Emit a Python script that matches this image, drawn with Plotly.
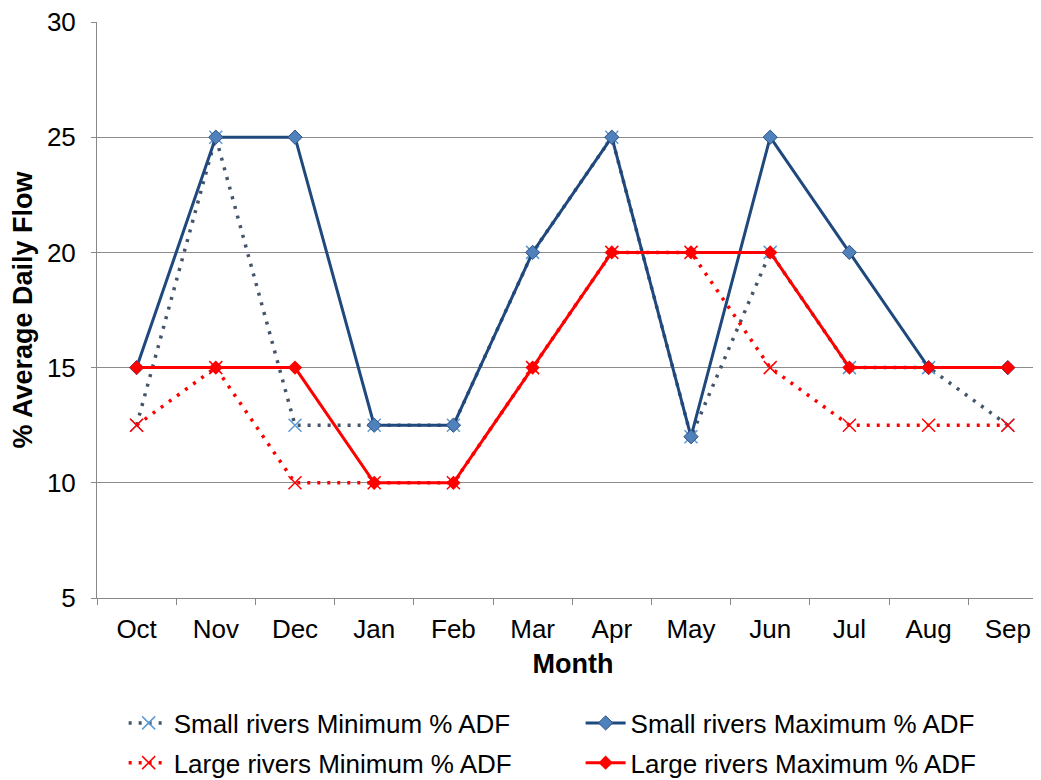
import plotly.graph_objects as go

months = ["Oct", "Nov", "Dec", "Jan", "Feb", "Mar", "Apr", "May", "Jun", "Jul", "Aug", "Sep"]
small_min = [12.5, 25, 12.5, 12.5, 12.5, 20, 25, 12, 20, 15, 15, 12.5]
small_max = [15, 25, 25, 12.5, 12.5, 20, 25, 12, 25, 20, 15, 15]
large_min = [12.5, 15, 10, 10, 10, 15, 20, 20, 15, 12.5, 12.5, 12.5]
large_max = [15, 15, 15, 10, 10, 15, 20, 20, 20, 15, 15, 15]
y_ticks = [5, 10, 15, 20, 25, 30]

FONT = "Liberation Sans, Arial, sans-serif"

fig = go.Figure()
fig.add_trace(go.Scatter(
    x=months, y=small_min, mode="lines+markers", name="Small rivers Minimum % ADF",
    line=dict(color="#44546A", width=3.5, dash="3px,7px"),
    marker=dict(symbol="x-thin", size=13, line=dict(color="#5B9BD5", width=1.5)),
    legend="legend", showlegend=True))
fig.add_trace(go.Scatter(
    x=months, y=small_max, mode="lines+markers", name="Small rivers Maximum % ADF",
    line=dict(color="#1F497D", width=3),
    marker=dict(symbol="diamond", size=11, color="#4F81BD", line=dict(color="#2F4F7F", width=1)),
    legend="legend2", showlegend=True))
fig.add_trace(go.Scatter(
    x=months, y=large_min, mode="lines+markers", name="Large rivers Minimum % ADF",
    line=dict(color="#FF0000", width=3.5, dash="3px,7px"),
    marker=dict(symbol="x-thin", size=13, line=dict(color="#FF0000", width=1.5)),
    legend="legend3", showlegend=True))
fig.add_trace(go.Scatter(
    x=months, y=large_max, mode="lines+markers", name="Large rivers Maximum % ADF",
    line=dict(color="#FF0000", width=3),
    marker=dict(symbol="diamond", size=11, color="#FF0000"),
    legend="legend4", showlegend=True))

def leg(x, y):
    return dict(
        orientation="h", xanchor="left", yanchor="middle", x=x, y=y,
        font=dict(family=FONT, size=26, color="#000000"),
        bgcolor="rgba(0,0,0,0)", itemwidth=40,
    )

row1, row2 = -0.217, -0.286
col1, col2 = 0.028, 0.508

fig.update_layout(
    width=1041, height=780,
    margin=dict(l=89, r=0, t=14, b=190),
    paper_bgcolor="white", plot_bgcolor="white",
    font=dict(family=FONT, size=26, color="#000000"),
    showlegend=True,
    legend=leg(col1, row1),
    legend2=leg(col2, row1),
    legend3=leg(col1, row2),
    legend4=leg(col2, row2),
    xaxis=dict(
        type="category", range=[-0.5, 11.52], automargin=False,
        showline=True, linecolor="#888888", linewidth=1,
        ticks="outside", tickson="boundaries", ticklen=6, tickcolor="#888888",
        showgrid=False, tickfont=dict(size=26), ticklabelstandoff=8,
        ticklabeloverflow="allow",
        title=dict(text="<b>Month</b>", font=dict(size=27), standoff=10),
    ),
    yaxis=dict(
        range=[5, 30], tickvals=y_ticks, automargin=False,
        showline=True, linecolor="#888888", linewidth=1,
        ticks="outside", ticklen=5, tickcolor="#888888",
        showgrid=True, gridcolor="#8C8C8C", gridwidth=1,
        zeroline=False, tickfont=dict(size=26), ticklabelstandoff=10,
        ticklabeloverflow="allow",
        title=dict(text="<b>% Average Daily Flow</b>", font=dict(size=27), standoff=10),
    ),
)

fig.write_html("out.html")
